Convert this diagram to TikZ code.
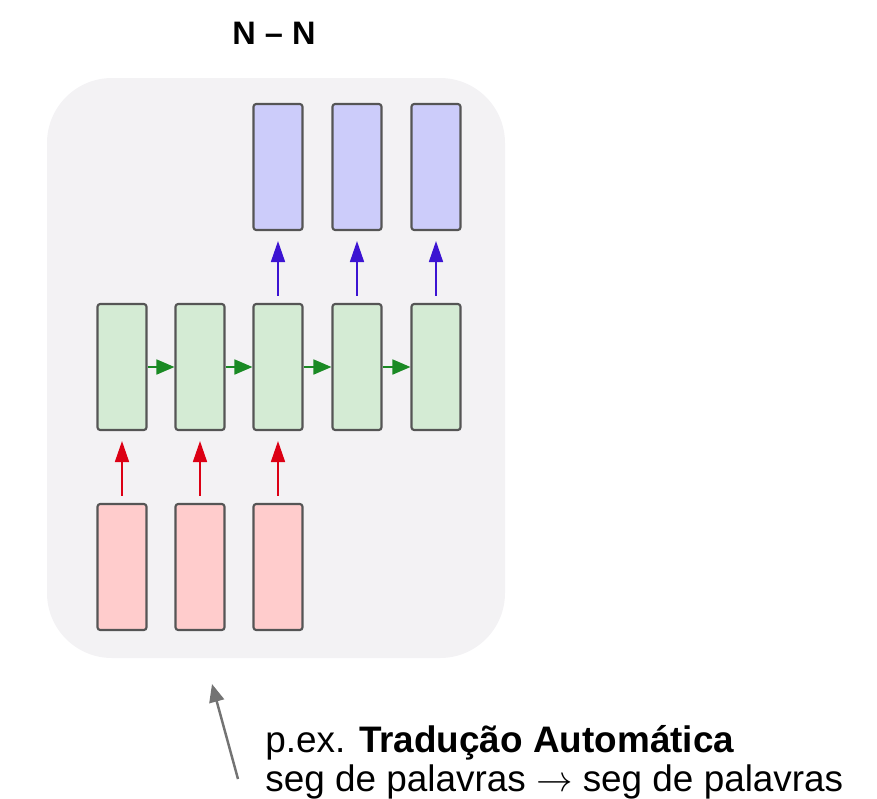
\documentclass[tikz,border=0pt]{standalone}
\usepackage{fontspec}
\setmainfont{Liberation Sans}
\usetikzlibrary{arrows.meta}

\definecolor{panelgray}{RGB}{243,242,244}
\definecolor{boxline}{RGB}{85,85,85}
\definecolor{infill}{RGB}{255,204,204}
\definecolor{hidfill}{RGB}{212,235,212}
\definecolor{outfill}{RGB}{204,204,250}
\definecolor{inarrow}{RGB}{220,0,20}
\definecolor{hidarrow}{RGB}{26,138,36}
\definecolor{outarrow}{RGB}{60,20,210}
\definecolor{notegray}{RGB}{115,115,115}

\tikzset{
    cell/.style={draw=boxline, line width=1.2pt, rounded corners=1.5pt,
        minimum width=0.98cm, minimum height=2.52cm, inner sep=0pt},
    inbox/.style={cell, fill=infill},
    hidbox/.style={cell, fill=hidfill},
    outbox/.style={cell, fill=outfill},
    flow/.style={line width=1pt, -{Triangle[length=0.42cm, width=0.28cm]}},
}

\begin{document}
\begin{tikzpicture}[x=0.02cm, y=-0.02cm]
	    \useasboundingbox (0,0) rectangle (877,799);
	    \fill[panelgray, rounded corners=1.3cm] (47,78) rectangle (505,658);
	    % title
	    \node[font=\bfseries\fontsize{18.5}{22}\selectfont] (title) at (274,33) {N – N};
	    % cells
	    \foreach \i/\x in {1/122,2/200,3/278,4/357,5/436}
	        \node[hidbox] (h\i) at (\x,367) {};
	    \foreach \i/\x in {1/122,2/200,3/278}
	        \node[inbox] (in\i) at (\x,567) {};
	    \foreach \i/\x in {3/278,4/357,5/436}
	        \node[outbox] (out\i) at (\x,167) {};
	    % connections
	    \foreach \i in {1,2,3}
	        \draw[flow, inarrow, shorten <=0.14cm, shorten >=0.2cm] (in\i) -- (h\i);
	    \foreach \i in {3,4,5}
	        \draw[flow, outarrow, shorten <=0.14cm, shorten >=0.2cm] (h\i) -- (out\i);
	    \foreach \i/\j in {1/2,2/3,3/4,4/5}
	        \draw[flow, hidarrow, -{Triangle[length=0.36cm, width=0.3cm]}] (h\i) -- (h\j);
	    % note
	    \node[anchor=base west, inner sep=0pt, text depth=0pt, font=\fontsize{21}{24}\selectfont] (note1) at (265,752)
	        {p.ex. \textbf{Tradução Automática}};
	    \node[anchor=base west, inner sep=0pt, text height=0.6em, font=\fontsize{21}{24}\selectfont] (note2) at (265,791)
	        {seg de palavras $\rightarrow$ seg de palavras};
	    \coordinate (tail) at (238,779);
	    \coordinate (pointer) at (212,684);
	    \draw[notegray, line width=1.4pt, -{Triangle[length=0.36cm, width=0.3cm]}] (tail) -- (pointer);
	\end{tikzpicture}
\end{document}
